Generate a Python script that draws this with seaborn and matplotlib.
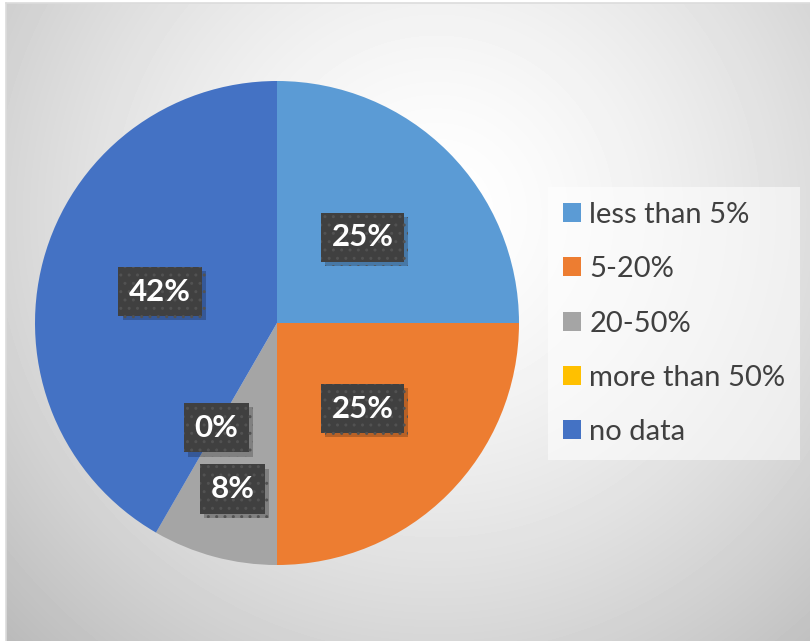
import numpy as np
import matplotlib
matplotlib.use("Agg")
import matplotlib.pyplot as plt
import seaborn as sns
from matplotlib import patheffects as pe
from matplotlib.patches import Patch

# Share of sites per category (counts)
categories = ["less than 5%", "5-20%", "20-50%", "more than 50%", "no data"]
counts = [3, 3, 1, 0, 5]
colors = ["#5B9BD5", "#ED7D31", "#A5A5A5", "#FFC000", "#4472C4"]

sns.set_theme(style="white")
plt.rcParams["font.family"] = ["Lato", "DejaVu Sans"]
plt.rcParams["hatch.linewidth"] = 1.0

W, H, DPI = 810, 641, 100
fig = plt.figure(figsize=(W / DPI, H / DPI), dpi=DPI)
fig.patch.set_facecolor("white")

# Chart area: soft radial gradient from white to light grey
bw, bh = W - 6, H - 3
bg = fig.add_axes([6 / W, 0, bw / W, bh / H])
yy, xx = np.mgrid[0:bh, 0:bw]
d = np.hypot((xx - 430) / 560, (yy - 210) / 560)
shade = 1 - 0.24 * np.clip(d, 0, 1.2) ** 1.5
bg.imshow(shade, cmap="gray", vmin=0, vmax=1, aspect="auto",
          interpolation="bilinear", extent=(0, bw, bh, 0))
bg.set_xticks([])
bg.set_yticks([])
for side, sp in bg.spines.items():
    if side in ("left", "top"):
        sp.set_color("#dcdcdc")
        sp.set_linewidth(1.2)
    else:
        sp.set_visible(False)

# Pie
R, pcx, pcy = 242, 277, 323
ax = fig.add_axes([(pcx - R) / W, (H - pcy - R) / H, 2 * R / W, 2 * R / H])
wedges, _ = ax.pie(counts, colors=colors, startangle=90, counterclock=False,
                   radius=1, wedgeprops=dict(linewidth=0))
ax.set_xlim(-1, 1)
ax.set_ylim(-1, 1)
ax.patch.set_alpha(0)

total = sum(counts)
label_dist = [0.5, 0.5, 0.71, 0.5, 0.5]
for w, v, r in zip(wedges, counts, label_dist):
    ang = np.deg2rad((w.theta1 + w.theta2) / 2)
    t = ax.text(r * np.cos(ang), r * np.sin(ang), f"{v / total * 100:.0f}%",
                ha="center", va="center", color="white", fontsize=22.5,
                fontweight="bold",
                bbox=dict(boxstyle="square,pad=0.34", facecolor="#404040",
                          edgecolor="#525252", linewidth=0, hatch=".."))
    t.get_bbox_patch().set_path_effects([
        pe.SimplePatchShadow(offset=(3, -3), shadow_rgbFace="black", alpha=0.22),
        pe.Normal()])

# Legend
handles = [Patch(facecolor=c, edgecolor="none") for c in colors]
leg = fig.legend(handles, categories, loc="center left",
                 bbox_to_anchor=(548 / W, 1 - 323.5 / H), frameon=True,
                 fancybox=False, fontsize=21, handlelength=0.62,
                 handleheight=0.62, handletextpad=0.3, labelspacing=0.97,
                 borderpad=0.5, borderaxespad=0, labelcolor="#404040")
frame = leg.get_frame()
frame.set_facecolor("white")
frame.set_alpha(0.55)
frame.set_edgecolor("none")

fig.savefig("out.png", dpi=DPI)
